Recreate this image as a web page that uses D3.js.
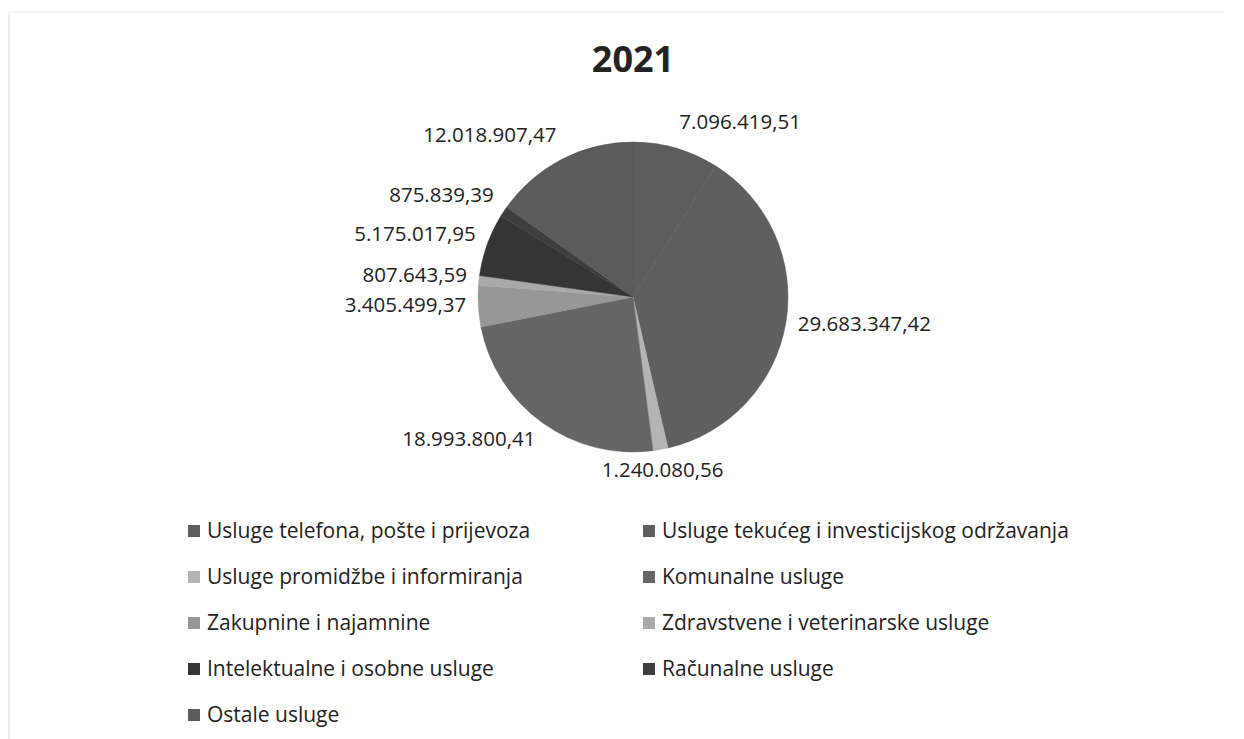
<!DOCTYPE html>
<html>
<head>
<meta charset="utf-8">
<script src="https://cdn.jsdelivr.net/npm/d3@7"></script>
<style>
  body { margin: 0; background: #fff; }
  svg text { font-family: "Open Sans", sans-serif; fill: #222; }
</style>
</head>
<body>
<div id="chart"></div>
<script>
// data
var categories = [
  "Usluge telefona, pošte i prijevoza",
  "Usluge tekućeg i investicijskog održavanja",
  "Usluge promidžbe i informiranja",
  "Komunalne usluge",
  "Zakupnine i najamnine",
  "Zdravstvene i veterinarske usluge",
  "Intelektualne i osobne usluge",
  "Računalne usluge",
  "Ostale usluge"
];
var amounts = [
  7096419.51, 29683347.42, 1240080.56, 18993800.41, 3405499.37,
  807643.59, 5175017.95, 875839.39, 12018907.47
];
var shades = [
  "#5d5d5d", "#5f5f5f", "#b4b4b4", "#656565", "#979797",
  "#a9a9a9", "#353535", "#3e3e3e", "#5b5b5b"
];

var W = 1244, H = 739;
var cx = 633, cy = 297, R = 155;

var svg = d3.select("#chart").append("svg")
  .attr("width", W)
  .attr("height", H);

// faint scan edges
svg.append("line").attr("x1", 9).attr("y1", 12).attr("x2", 9).attr("y2", H)
  .attr("stroke", "#e6e6e6").attr("stroke-width", 1.5);
svg.append("line").attr("x1", 9).attr("y1", 12).attr("x2", W - 20).attr("y2", 12)
  .attr("stroke", "#f1f1f1").attr("stroke-width", 1.5);

svg.append("text")
  .attr("x", cx)
  .attr("y", 72)
  .attr("text-anchor", "middle")
  .style("font-size", "36px")
  .style("font-weight", "bold")
  .text("2021");

var fmt = d3.formatLocale({ decimal: ",", thousands: ".", grouping: [3] }).format(",.2f");

var pie = d3.pie().sort(null).value(function (d) { return d; });
var arcs = pie(amounts);
var arc = d3.arc().innerRadius(0).outerRadius(R);

var g = svg.append("g").attr("transform", "translate(" + cx + "," + cy + ")");

g.selectAll("path.slice")
  .data(arcs)
  .enter()
  .append("path")
  .attr("class", "slice")
  .attr("d", arc)
  .attr("fill", function (d, i) { return shades[i]; })
  .attr("stroke", function (d, i) { return shades[i]; })
  .attr("stroke-width", 0.5);

// value labels just outside the rim
var labelR = R + 12;
g.selectAll("text.val")
  .data(arcs)
  .enter()
  .append("text")
  .attr("class", "val")
  .style("font-size", "20.5px")
  .each(function (d) {
    var a = (d.startAngle + d.endAngle) / 2;
    var x = labelR * Math.sin(a);
    var y = -labelR * Math.cos(a);
    var anchor = "middle";
    if (Math.sin(a) > 0.25) anchor = "start";
    else if (Math.sin(a) < -0.35) anchor = "end";
    d3.select(this)
      .attr("x", x)
      .attr("y", y + 4 - 12 * Math.cos(a))
      .attr("text-anchor", anchor);
  })
  .text(function (d) { return fmt(d.data); });

// legend, two columns
var colX = [188, 643], rowY0 = 531, rowStep = 46;
var leg = svg.append("g").selectAll("g")
  .data(categories)
  .enter()
  .append("g")
  .attr("transform", function (d, i) {
    return "translate(" + colX[i % 2] + "," + (rowY0 + Math.floor(i / 2) * rowStep) + ")";
  });

leg.append("rect")
  .attr("x", 0)
  .attr("y", -6)
  .attr("width", 12)
  .attr("height", 12)
  .attr("fill", function (d, i) { return shades[i]; });

leg.append("text")
  .attr("x", 19)
  .attr("y", 7)
  .style("font-size", "21px")
  .text(function (d) { return d; });
</script>
</body>
</html>
